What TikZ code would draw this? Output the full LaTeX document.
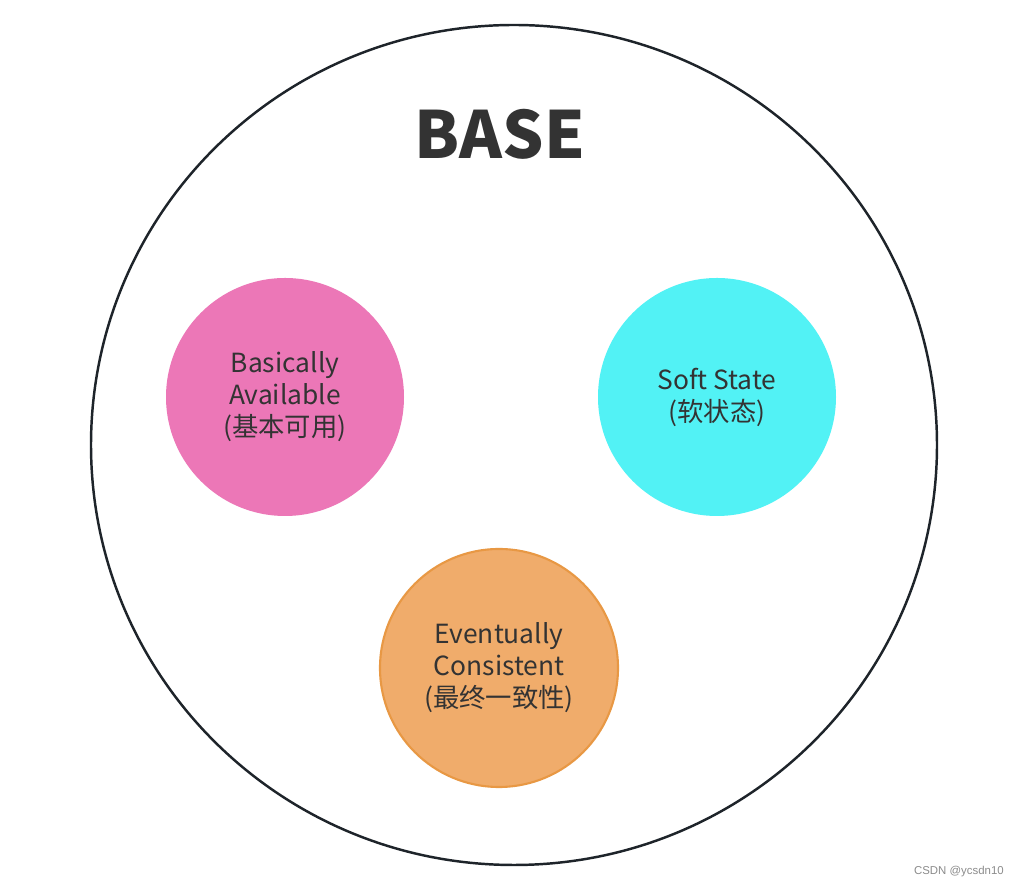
\documentclass[tikz,border=0pt]{standalone}
\usepackage{fontspec}
\setmainfont{Noto Sans CJK SC}
\newfontfamily\markfont{Liberation Sans}
\usetikzlibrary{positioning, shapes.geometric}
\definecolor{ringcolor}{RGB}{30,36,42}
\definecolor{textcolor}{RGB}{51,51,51}
\definecolor{bacolor}{RGB}{236,119,183}
\definecolor{sscolor}{RGB}{82,242,245}
\definecolor{eccolor}{RGB}{240,172,107}
\definecolor{ecborder}{RGB}{232,152,68}
\tikzset{
  bubble/.style={
    circle,
    minimum size=4.76cm,
    inner sep=0pt,
    align=center,
    text=textcolor,
    font=\fontsize{15}{18.2}\selectfont
  },
  ring/.style={
    ellipse,
    draw=ringcolor,
    line width=1.4pt,
    minimum width=16.92cm,
    minimum height=16.8cm
  }
}

\begin{document}
\begin{tikzpicture}

\useasboundingbox[fill=white] (0,0) rectangle (20.48,17.78);

% Outer ring
\node[ring] (base) at (10.28,8.88) {};
\node[font=\fontsize{37}{42}\selectfont\bfseries, text=textcolor] (title) at (10.0,15.1) {BASE};

% Bubbles
\node[bubble, fill=bacolor] (ba) at (5.70,9.84) {Basically\\Available\\(基本可用)};
\node[bubble, fill=sscolor] (ss) at (14.34,9.84) {Soft State\\(软状态)};
\node[bubble, fill=eccolor, draw=ecborder, line width=1.2pt] (ec) at (9.98,4.42)
  {Eventually\\Consistent\\(最终一致性)};

% Watermark
\node[font=\markfont\fontsize{6.5}{8}\selectfont, text=black!45, anchor=east] (mark) at (20.2,0.34) {CSDN @ycsdn10};

\end{tikzpicture}
\end{document}
